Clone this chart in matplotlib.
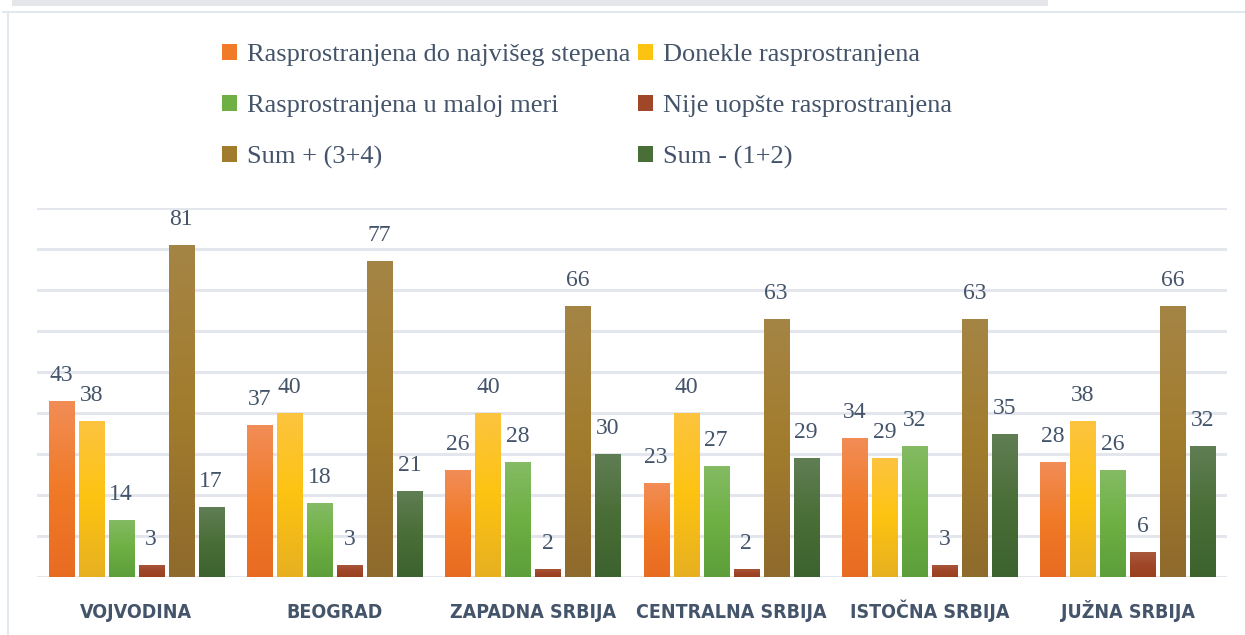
import numpy as np
import matplotlib
matplotlib.use("Agg")
import matplotlib.pyplot as plt
from matplotlib.patches import Rectangle, Patch
from matplotlib.colors import LinearSegmentedColormap

categories = ["VOJVODINA", "BEOGRAD", "ZAPADNA SRBIJA", "CENTRALNA SRBIJA", "ISTOČNA SRBIJA", "JUŽNA SRBIJA"]
series_names = ["Rasprostranjena do najvišeg stepena", "Donekle rasprostranjena",
                "Rasprostranjena u maloj meri", "Nije uopšte rasprostranjena",
                "Sum + (3+4)", "Sum - (1+2)"]
s1 = [43, 37, 26, 23, 34, 28]
s2 = [38, 40, 40, 40, 29, 38]
s3 = [14, 18, 28, 27, 32, 26]
s4 = [3, 3, 2, 2, 3, 6]
s5 = [81, 77, 66, 63, 63, 66]
s6 = [17, 21, 30, 29, 35, 32]
series = [s1, s2, s3, s4, s5, s6]

# gradient colours (top, middle, bottom)
grads = [
    ("#F28D57", "#F07A27", "#E86B22"),
    ("#FDC440", "#FDC311", "#E7B021"),
    ("#84BB64", "#6EB043", "#5C9E3A"),
    ("#A9583E", "#A0472A", "#98401F"),
    ("#A58545", "#A27C2D", "#8E6A2C"),
    ("#607E54", "#4A6E37", "#3C622E"),
]
legend_colors = ["#F07A27", "#FDC311", "#6EB043", "#A0472A", "#A27C2D", "#4A6E37"]

text_color = "#44546A"
grid_color = "#E3E7ED"

cat_font = dict(family="DejaVu Sans", fontweight="bold", fontstretch="condensed", fontsize=14)

fig = plt.figure(figsize=(12.45, 6.35), dpi=100)
ax = fig.add_axes([37/1245, 1-577/635, (1227-37)/1245, (577-208)/635])

x = np.arange(len(categories))
bw = 25/198.3
step = 30/198.3
offsets = (np.arange(6) - 2.5) * step

ax.set_xlim(-0.5, len(categories)-0.5)
ax.set_ylim(0, 90)
for i, vals in enumerate(series):
    bars = ax.bar(x + offsets[i], vals, width=bw, color=legend_colors[i], zorder=2)
    cmap = LinearSegmentedColormap.from_list("g%d" % i, [grads[i][2], grads[i][1], grads[i][0]])
    for b, v in zip(bars, vals):
        x0 = b.get_x()
        w = b.get_width()
        h = b.get_height()
        grad = np.linspace(0, 1, 256).reshape(-1, 1)
        im = ax.imshow(grad, cmap=cmap, origin="lower", aspect="auto",
                       extent=[x0, x0 + w, 0, h], zorder=3, interpolation="bicubic")
        im.set_clip_path(b)
        ax.annotate(str(v), (x0 + w/2, h), xytext=(0, 14.4), textcoords="offset points",
                    ha="center", va="baseline", fontsize=17, color=text_color,
                    family="Liberation Serif", zorder=4)
ax.set_xlim(-0.5, len(categories)-0.5)
ax.set_ylim(0, 90)

ax.set_yticks(np.arange(0, 91, 10))
ax.yaxis.grid(True, color=grid_color, linewidth=2.2, zorder=0)
ax.set_axisbelow(True)
ax.tick_params(axis="y", left=False, labelleft=False)
ax.set_xticks(x)
ax.tick_params(axis="x", bottom=False, labelbottom=False)
for xi, c in zip(x, categories):
    ax.annotate(c, (xi, 0), xycoords=("data", "axes fraction"), xytext=(0, -29.5),
                textcoords="offset points", ha="center", va="baseline",
                color=text_color, **cat_font)
for s in ax.spines.values():
    s.set_visible(False)
ax.patch.set_visible(False)

# legend
order = [0, 2, 4, 1, 3, 5]
handles = [Patch(facecolor=legend_colors[k], edgecolor="none") for k in order]
labels = [series_names[k] for k in order]
leg = fig.legend(handles, labels, ncol=2, loc="upper left",
                 bbox_to_anchor=(222/1245, 1-44/635), frameon=False,
                 prop={"family": "Liberation Serif", "size": 19},
                 handlelength=0.57, handleheight=0.57, handletextpad=0.38,
                 labelspacing=1.08, columnspacing=0.3, borderaxespad=0, borderpad=0)
for t in leg.get_texts():
    t.set_color(text_color)

# frame decorations
fig.patches.append(Rectangle((12/1245, 1-6/635), (1048-12)/1245, 6/635,
                             transform=fig.transFigure, facecolor="#E4E6E9",
                             edgecolor="none", zorder=0))
fig.add_artist(plt.Line2D([3/1245, 1], [1-12/635, 1-12/635], transform=fig.transFigure,
                          color="#E3E8EE", linewidth=1.5))
fig.add_artist(plt.Line2D([8/1245, 8/1245], [0, 1-12/635], transform=fig.transFigure,
                          color="#E3E8EE", linewidth=1.5))

fig.savefig("out.png", dpi=100)
